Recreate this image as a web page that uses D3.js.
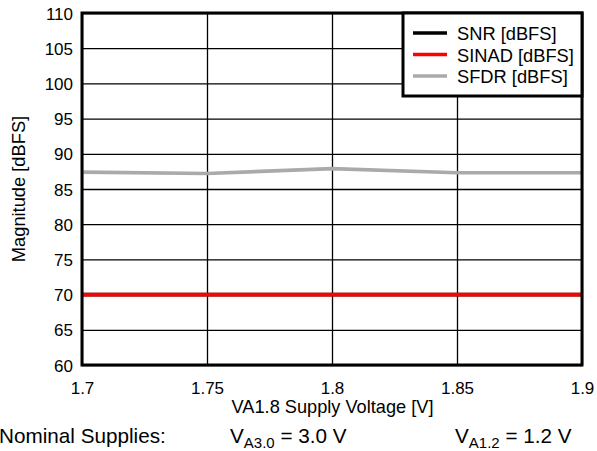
<!DOCTYPE html>
<html><head><meta charset="utf-8">
<script src="https://cdn.jsdelivr.net/npm/d3@7"></script>
<style>body{margin:0;background:#fff}svg{display:block;font-family:"Liberation Sans",Arial,sans-serif}</style>
</head><body><svg id="c" width="597" height="451"></svg>
<script>
const voltages = [1.7, 1.75, 1.8, 1.85, 1.9];
const snr = [70.0, 70.0, 70.0, 70.0, 70.0];
const sinad = [70.0, 70.0, 70.0, 70.0, 70.0];
const sfdr = [87.4, 87.2, 87.9, 87.3, 87.3];
const xTicks = [1.7, 1.75, 1.8, 1.85, 1.9];
const yTicks = [60, 65, 70, 75, 80, 85, 90, 95, 100, 105, 110];
const seriesNames = ["SNR [dBFS]", "SINAD [dBFS]", "SFDR [dBFS]"];
const seriesColors = ["#000000", "#ff0000", "#aaaaaa"];

const FF = '"Liberation Sans",Arial,sans-serif';
const svg = d3.select("#c");
const L = 82, R = 582, T = 13, B = 365;
const x = d3.scaleLinear().domain([1.7, 1.9]).range([L, R]);
const y = d3.scaleLinear().domain([60, 110]).range([B, T]);

// grid
svg.append("g").attr("transform", `translate(0,${B})`)
  .call(d3.axisBottom(x).tickValues(xTicks).tickSize(-(B - T)).tickFormat(d => d3.format("")(d)))
  .call(g => g.select(".domain").remove())
  .call(g => g.selectAll("line").attr("stroke", "#000").attr("stroke-width", 1.3))
  .call(g => g.selectAll("text").attr("font-size", 17).attr("fill", "#000").attr("y", 29).attr("dy", 0)
    .attr("font-family", FF));
svg.append("g").attr("transform", `translate(${L},0)`)
  .call(d3.axisLeft(y).tickValues(yTicks).tickSize(-(R - L)).tickPadding(9))
  .call(g => g.select(".domain").remove())
  .call(g => g.selectAll("line").attr("stroke", "#000").attr("stroke-width", 1.3))
  .call(g => g.selectAll("text").attr("font-size", 17).attr("fill", "#000").attr("dy", "0.36em")
    .attr("font-family", FF));

// lines
const line = vals => d3.line().x((d, i) => x(voltages[i])).y(d => y(d))(vals);
[[snr, 0], [sfdr, 2], [sinad, 1]].forEach(([vals, k]) => {
  svg.append("path").attr("d", line(vals)).attr("fill", "none").attr("stroke", seriesColors[k]).attr("stroke-width", 3.6);
});

// border
svg.append("rect").attr("x", L).attr("y", T).attr("width", R - L).attr("height", B - T)
  .attr("fill", "none").attr("stroke", "#000").attr("stroke-width", 3);

// legend
const lg = svg.append("g");
lg.append("rect").attr("x", 403).attr("y", T).attr("width", R - 403).attr("height", 83)
  .attr("fill", "#fff").attr("stroke", "#000").attr("stroke-width", 3);
seriesNames.forEach((n, i) => {
  const yy = 33 + i * 21.5;
  lg.append("line").attr("x1", 413).attr("x2", 447).attr("y1", yy).attr("y2", yy)
    .attr("stroke", seriesColors[i]).attr("stroke-width", 3.6);
  lg.append("text").attr("x", 457).attr("y", yy + 7).attr("font-size", 18.3).text(n);
});

// titles
svg.append("text").attr("x", 332.5).attr("y", 413).attr("text-anchor", "middle").attr("font-size", 18.2)
  .text("VA1.8 Supply Voltage [V]");
svg.append("text").attr("transform", "translate(25,189) rotate(-90)").attr("text-anchor", "middle")
  .attr("font-size", 18.3).text("Magnitude [dBFS]");

// nominal supplies
svg.append("text").attr("x", -1).attr("y", 443).attr("font-size", 20.7).text("Nominal Supplies:");
const t1 = svg.append("text").attr("x", 230).attr("y", 443).attr("font-size", 20.7);
t1.append("tspan").text("V");
t1.append("tspan").attr("font-size", 15).attr("dy", 5).text("A3.0");
t1.append("tspan").attr("dy", -5).text(" = 3.0 V");
const t2 = svg.append("text").attr("x", 455).attr("y", 443).attr("font-size", 20.7);
t2.append("tspan").text("V");
t2.append("tspan").attr("font-size", 15).attr("dy", 5).text("A1.2");
t2.append("tspan").attr("dy", -5).text(" = 1.2 V");
</script></body></html>
